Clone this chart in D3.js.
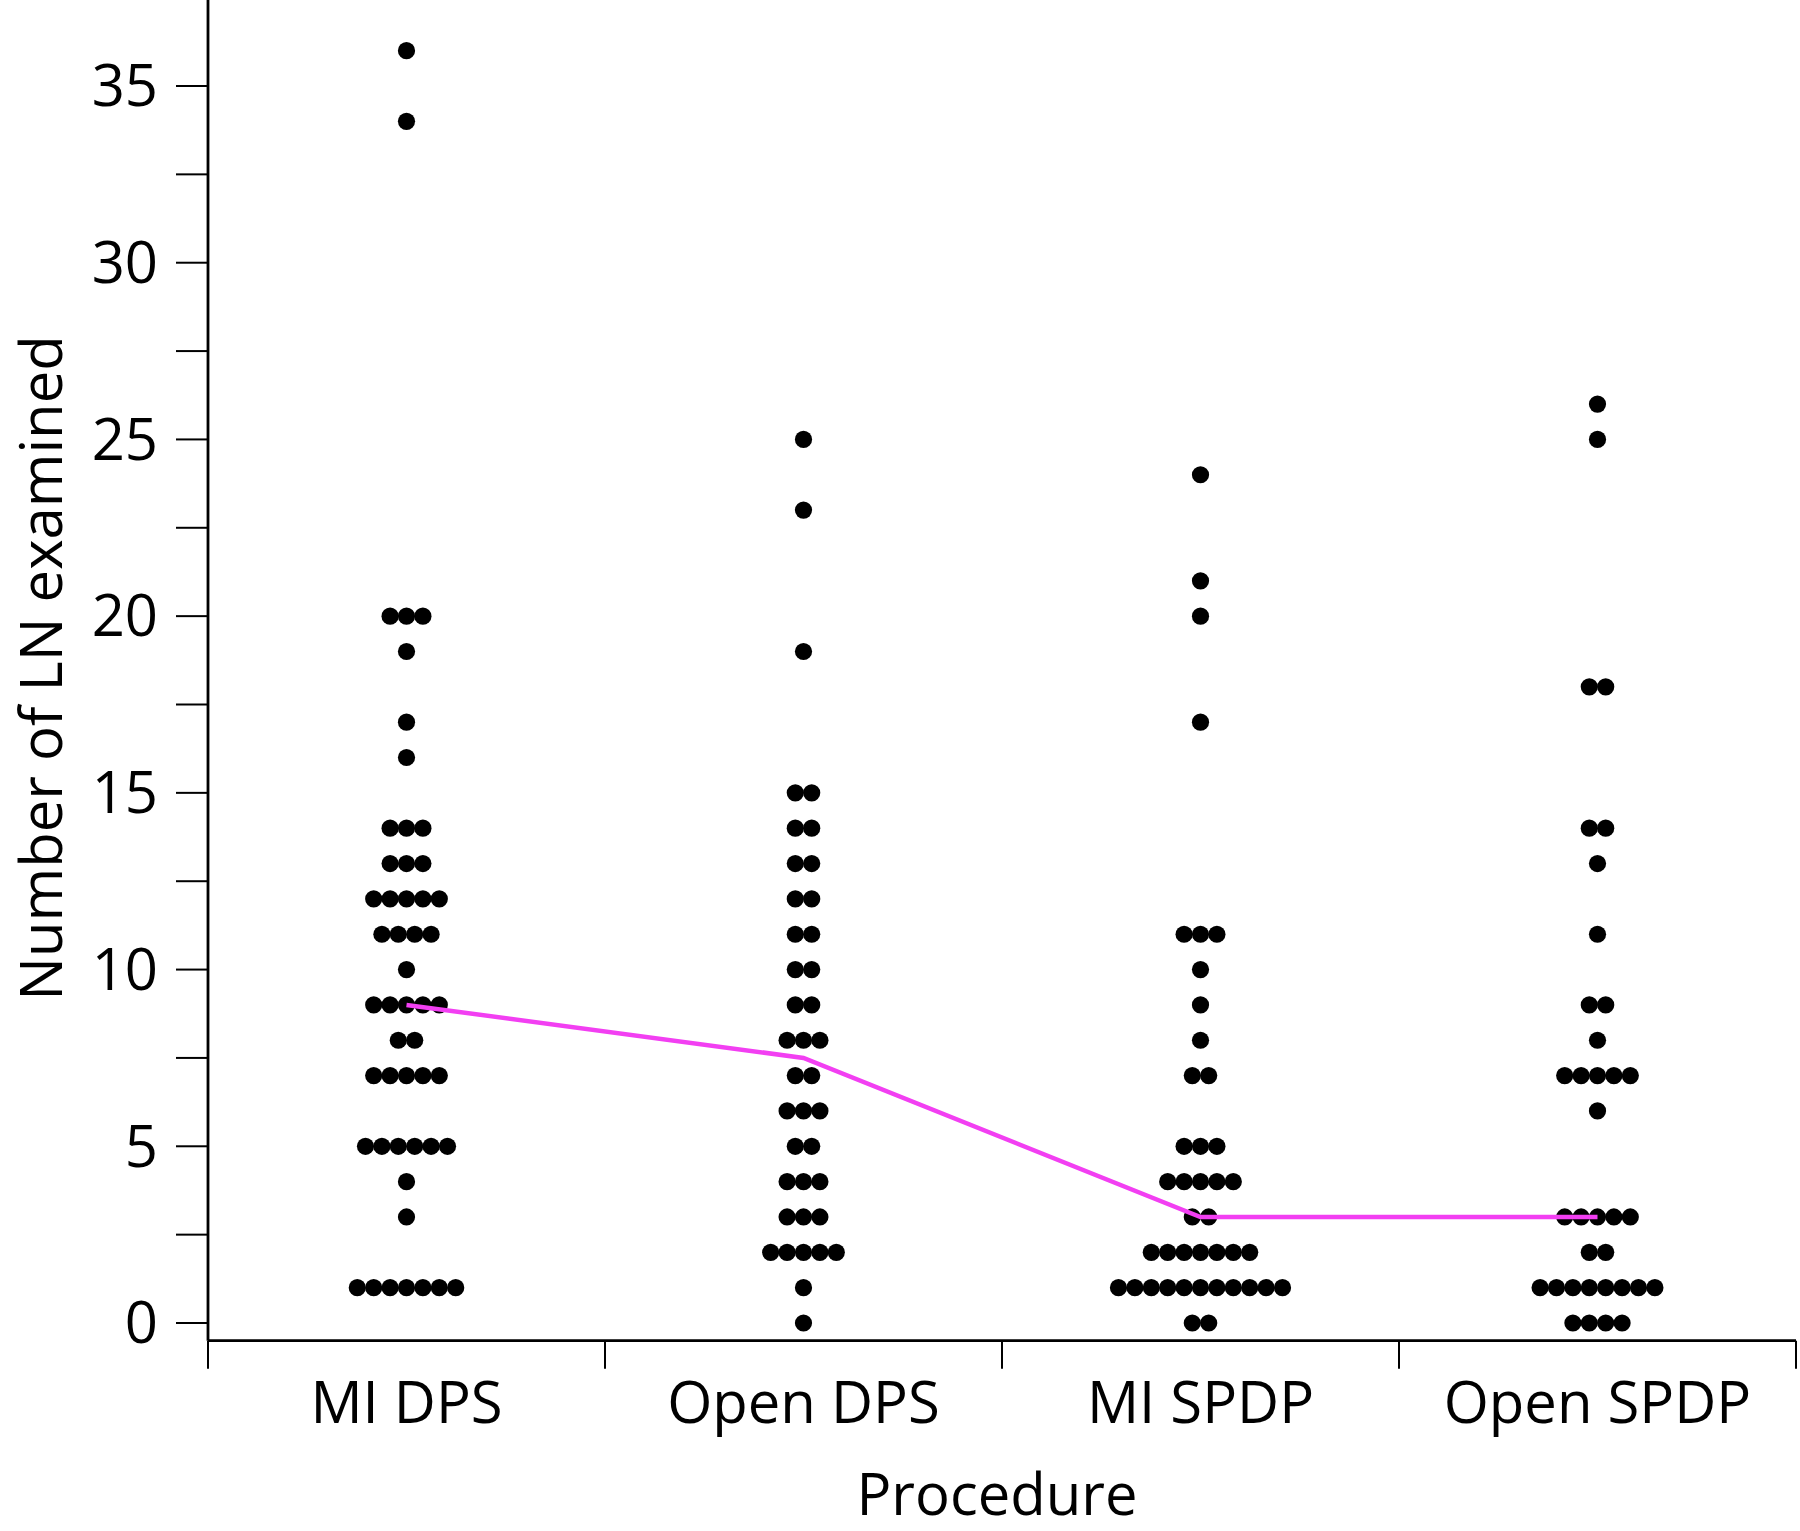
<!DOCTYPE html>
<html>
<head>
<meta charset="utf-8">
<script src="https://cdn.jsdelivr.net/npm/d3@7"></script>
<style>
  html, body { margin: 0; padding: 0; background: #fff; }
  svg { display: block; font-family: "Open Sans", "Noto Sans", sans-serif; }
</style>
</head>
<body>
<svg id="chart" width="1800" height="1531"></svg>
<script>
const categories = ["MI DPS", "Open DPS", "MI SPDP", "Open SPDP"];

// Individual observations (number of lymph nodes examined) per procedure
const miDps = [36, 34, 20, 20, 20, 19, 17, 16, 14, 14, 14, 13, 13, 13,
  12, 12, 12, 12, 12, 11, 11, 11, 11, 10, 9, 9, 9, 9, 9, 8, 8,
  7, 7, 7, 7, 7, 5, 5, 5, 5, 5, 5, 4, 3, 1, 1, 1, 1, 1, 1, 1];
const openDps = [25, 23, 19, 15, 15, 14, 14, 13, 13, 12, 12, 11, 11, 10, 10,
  9, 9, 8, 8, 8, 7, 7, 6, 6, 6, 5, 5, 4, 4, 4, 3, 3, 3,
  2, 2, 2, 2, 2, 1, 0];
const miSpdp = [24, 21, 20, 17, 11, 11, 11, 10, 9, 8, 7, 7, 5, 5, 5,
  4, 4, 4, 4, 4, 3, 3, 2, 2, 2, 2, 2, 2, 2,
  1, 1, 1, 1, 1, 1, 1, 1, 1, 1, 1, 0, 0];
const openSpdp = [26, 25, 18, 18, 14, 14, 13, 11, 9, 9, 8, 7, 7, 7, 7, 7, 6,
  3, 3, 3, 3, 3, 2, 2, 1, 1, 1, 1, 1, 1, 1, 1, 0, 0, 0, 0];

const seriesValues = [miDps, openDps, miSpdp, openSpdp];
const yTickValues = [0, 5, 10, 15, 20, 25, 30, 35];
const yMinorTicks = [2.5, 7.5, 12.5, 17.5, 22.5, 27.5, 32.5, 37.5];

const svg = d3.select("#chart");
const FONT = 58;

const x = d3.scaleBand().domain(categories).range([208, 1796]).padding(0);
const y = d3.scaleLinear().domain([0, 35]).range([1323, 86]);
const yBottom = y(-0.5), yTop = y(37.45);

// axes
const axisG = svg.append("g");
axisG.append("line")
  .attr("x1", 208).attr("x2", 208).attr("y1", yTop).attr("y2", yBottom)
  .attr("stroke", "#000").attr("stroke-width", 2.8);
axisG.append("line")
  .attr("x1", 208).attr("x2", 1796).attr("y1", yBottom).attr("y2", yBottom)
  .attr("stroke", "#000").attr("stroke-width", 2.8);

// y ticks (major + minor, same length)
const yTicksAll = yTickValues.concat(yMinorTicks.filter(v => y(v) >= yTop - 1));
axisG.selectAll(".ytick").data(yTicksAll).enter().append("line")
  .attr("x1", 176).attr("x2", 208)
  .attr("y1", d => y(d)).attr("y2", d => y(d))
  .attr("stroke", "#000").attr("stroke-width", 2);
axisG.selectAll(".ylab").data(yTickValues).enter().append("text")
  .attr("x", 158).attr("y", d => y(d))
  .attr("dy", "0.35em")
  .attr("text-anchor", "end")
  .attr("font-size", FONT)
  .attr("fill", "#000")
  .text(d => d);

// x ticks at category boundaries
const boundaries = categories.map(c => x(c)).concat([x(categories[categories.length - 1]) + x.bandwidth()]);
axisG.selectAll(".xtick").data(boundaries).enter().append("line")
  .attr("x1", d => d).attr("x2", d => d)
  .attr("y1", yBottom).attr("y2", yBottom + 28)
  .attr("stroke", "#000").attr("stroke-width", 2);
axisG.selectAll(".xlab").data(categories).enter().append("text")
  .attr("x", d => x(d) + x.bandwidth() / 2)
  .attr("y", 1423)
  .attr("text-anchor", "middle")
  .attr("font-size", FONT)
  .attr("fill", "#000")
  .text(d => d);

// axis titles
svg.append("text")
  .attr("transform", "translate(62,668) rotate(-90)")
  .attr("text-anchor", "middle")
  .attr("font-size", FONT)
  .attr("fill", "#000")
  .text("Number of LN examined");
svg.append("text")
  .attr("x", 997).attr("y", 1515)
  .attr("text-anchor", "middle")
  .attr("font-size", FONT)
  .attr("fill", "#000")
  .text("Procedure");

// dots: stack same values horizontally, centered
const R = 8.6, STEP = 16.4;
const dots = [];
categories.forEach((c, ci) => {
  const groups = d3.group(seriesValues[ci], v => v);
  groups.forEach((arr, v) => {
    const n = arr.length;
    arr.forEach((_, i) => dots.push({ cat: c, value: v, offset: (i - (n - 1) / 2) * STEP }));
  });
});
svg.append("g").selectAll("circle").data(dots).enter().append("circle")
  .attr("cx", d => x(d.cat) + x.bandwidth() / 2 + d.offset)
  .attr("cy", d => y(d.value))
  .attr("r", R)
  .attr("fill", "#000");

// median line
const medians = categories.map((c, ci) => ({ cat: c, value: d3.median(seriesValues[ci]) }));
const line = d3.line()
  .x(d => x(d.cat) + x.bandwidth() / 2)
  .y(d => y(d.value));
svg.append("path")
  .datum(medians)
  .attr("d", line)
  .attr("fill", "none")
  .attr("stroke", "#f23ff2")
  .attr("stroke-width", 4.5);
</script>
</body>
</html>
